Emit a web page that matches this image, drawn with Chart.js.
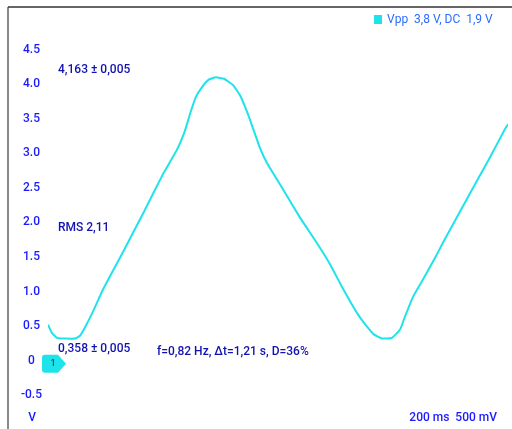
<!DOCTYPE html>
<html>
	<body style="margin:0;background:#fff">
		<canvas id="scope" width="512" height="429"></canvas>
		<script src="https://cdn.jsdelivr.net/npm/chart.js@4/dist/chart.umd.min.js"></script>
		<script>
			// time (s) and voltage (V)
			const times = [0, 0.015, 0.034, 0.065, 0.103, 0.122, 0.141, 0.168, 0.210, 0.286, 0.363, 0.439, 0.492, 0.523, 0.542, 0.565, 0.588, 0.615, 0.641, 0.672, 0.706, 0.733, 0.760, 0.782, 0.809, 0.836, 0.897, 0.962, 1.027, 1.076, 1.122, 1.153, 1.183, 1.214, 1.244, 1.275, 1.313, 1.344, 1.363, 1.393, 1.420, 1.447, 1.485, 1.508, 1.573, 1.637, 1.687, 1.744, 1.756];
			const volts = [0.52, 0.40, 0.33, 0.32, 0.32, 0.36, 0.48, 0.68, 1.03, 1.57, 2.13, 2.70, 3.05, 3.33, 3.57, 3.82, 3.96, 4.07, 4.10, 4.08, 3.99, 3.84, 3.60, 3.37, 3.08, 2.86, 2.48, 2.07, 1.70, 1.40, 1.07, 0.86, 0.67, 0.51, 0.38, 0.32, 0.33, 0.45, 0.64, 0.92, 1.10, 1.28, 1.54, 1.71, 2.16, 2.60, 2.94, 3.35, 3.42];
			const yTicks = [-0.5, 0, 0.5, 1.0, 1.5, 2.0, 2.5, 3.0, 3.5, 4.0, 4.5];
			const legendText = 'Vpp  3,8 V, DC  1,9 V';
			const notes = ['4,163 ± 0,005', 'RMS 2,11', '0,358 ± 0,005', 'f=0,82 Hz, Δt=1,21 s, D=36%', '200 ms  500 mV', 'V', '1'];

			var points = [];
			for (let i = 0; i < times.length; i++) {
				points.push({x: times[i], y: volts[i]});
			}

			const traceColor = '#1ee3ea';
			const tickBlue = '#1a1aff';
			const noteBlue = '#1212b0';

			// frame, legend, measurement texts and channel marker
			const overlay = {
				id: 'overlay',
				beforeDraw(chart) {
					const c = chart.ctx;
					c.save();
					c.fillStyle = '#fff';
					c.fillRect(0, 0, chart.width, chart.height);
					c.strokeStyle = '#888';
					c.lineWidth = 2;
					c.beginPath(); c.moveTo(8, 7); c.lineTo(8, 429); c.stroke();
					c.strokeStyle = '#333';
					c.lineWidth = 1.5;
					c.beginPath(); c.moveTo(8, 7); c.lineTo(512, 7); c.stroke();
					c.restore();
				},
				afterDraw(chart) {
					const c = chart.ctx;
					c.save();
					c.textBaseline = 'middle';
					c.font = '12px Roboto';
					// legend
					c.fillStyle = traceColor;
					c.fillRect(374, 15, 8, 9);
					c.fillStyle = '#2a6cff';
					c.textAlign = 'left';
					c.fillText(legendText, 387, 19.5);

					c.fillStyle = noteBlue;
					c.font = '500 12px Roboto';
					c.fillText(notes[0], 58, 70);
					c.fillText(notes[1], 58, 228);
					c.fillText(notes[2], 58, 349);
					c.fillText(notes[3], 157, 352);
					c.fillStyle = tickBlue;
					c.textAlign = 'right';
					c.fillText(notes[4], 497, 418);
					c.textAlign = 'center';
					c.fillText(notes[5], 32, 418);

					// channel 1 ground marker
					const y0 = chart.scales.y.getPixelForValue(0) + 3;
					c.fillStyle = traceColor;
					c.beginPath();
					c.moveTo(45, y0 - 9);
					c.lineTo(58, y0 - 9);
					c.lineTo(66, y0);
					c.lineTo(58, y0 + 9);
					c.lineTo(45, y0 + 9);
					c.quadraticCurveTo(42, y0 + 9, 42, y0 + 6);
					c.lineTo(42, y0 - 6);
					c.quadraticCurveTo(42, y0 - 9, 45, y0 - 9);
					c.fill();
					c.fillStyle = '#102040';
					c.font = '9px Roboto';
					c.fillText(notes[6], 53, y0);
					c.restore();
				}
			};

			const myChart = new Chart('scope', {
				type: 'line',
				data: {
					datasets: [{
						label: legendText,
						data: points,
						borderColor: traceColor,
						borderWidth: 2,
						pointRadius: 0,
						tension: 0.12,
						fill: false
					}]
				},
				options: {
					responsive: false,
					animation: false,
					layout: {padding: {top: 29, bottom: 20, left: 14, right: 4}},
					plugins: {
						legend: {display: false},
						tooltip: {enabled: false}
					},
					scales: {
						x: {
							type: 'linear',
							display: false,
							min: 0,
							max: times[times.length - 1]
						},
						y: {
							min: -0.7,
							max: 4.8,
							border: {display: false},
							grid: {display: false, drawTicks: false},
							afterFit(scale) { scale.width = 34; },
							afterBuildTicks(scale) {
								scale.ticks = yTicks.map(v => ({value: v}));
							},
							ticks: {
								crossAlign: 'center',
								padding: 6,
								color: tickBlue,
								font: {family: 'Roboto', size: 12, weight: '500'},
								callback: v => v === 0 ? '0' : v.toFixed(1)
							}
						}
					}
				},
				plugins: [overlay]
			});
		</script>
	</body>
</html>
